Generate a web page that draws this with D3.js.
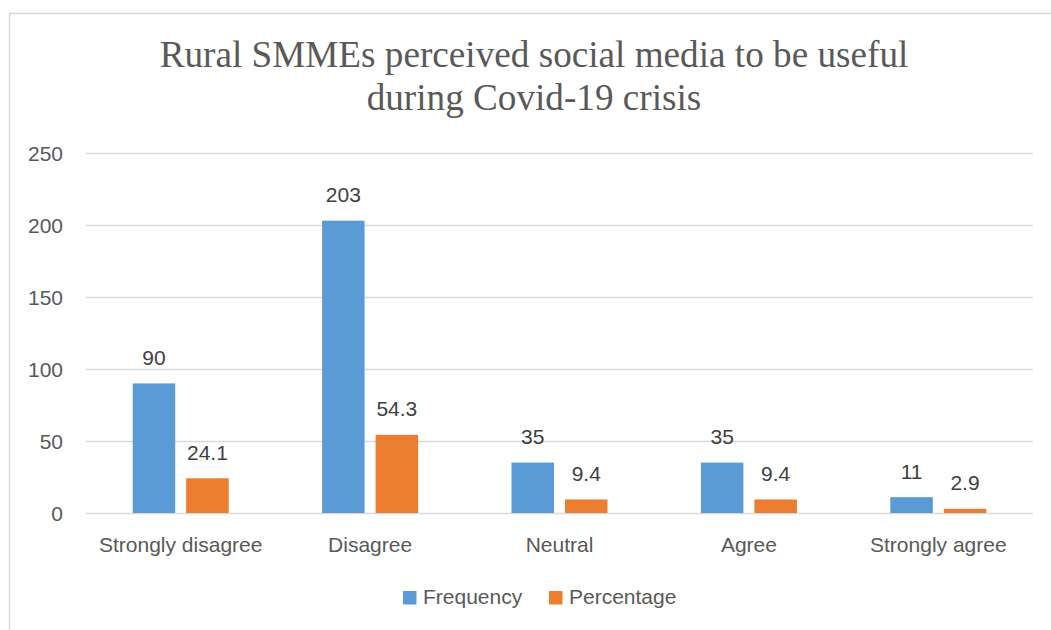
<!DOCTYPE html>
<html>
<head>
<meta charset="utf-8">
<script src="https://cdn.jsdelivr.net/npm/d3@7"></script>
<style>
  html, body { margin: 0; padding: 0; background: #fff; }
  svg { display: block; }
</style>
</head>
<body>
<svg id="chart" width="1051" height="630"></svg>
<script>
// Survey responses
const categories = ["Strongly disagree", "Disagree", "Neutral", "Agree", "Strongly agree"];
const frequency = [90, 203, 35, 35, 11];
const percentage = [24.1, 54.3, 9.4, 9.4, 2.9];
const seriesNames = ["Frequency", "Percentage"];
const yTicks = [0, 50, 100, 150, 200, 250];
const titleLines = ["Rural SMMEs perceived social media to be useful", "during Covid-19 crisis"];

const colors = ["#5B9BD5", "#ED7D31"];
const labelFont = "'Liberation Sans', Arial, sans-serif";

const svg = d3.select("#chart");
const W = 1051, H = 630;
const margin = { left: 86, right: W - 1033, top: 153, bottom: H - 513 };

svg.append("rect").attr("width", W).attr("height", H).attr("fill", "#fff");

// Chart area outline
svg.append("rect")
  .attr("x", 9.5).attr("y", 13.5)
  .attr("width", W + 20).attr("height", H + 20)
  .attr("fill", "none").attr("stroke", "#D9D9D9").attr("stroke-width", 1.5);

// Title
svg.append("text")
  .attr("font-family", "'Liberation Serif', 'Times New Roman', serif")
  .attr("font-size", 37.2)
  .attr("fill", "#595959")
  .attr("text-anchor", "middle")
  .selectAll("tspan").data(titleLines).join("tspan")
  .attr("x", 534)
  .attr("y", (d, i) => 67 + i * 43)
  .text(d => d);

const x0 = d3.scaleBand().domain(categories)
  .range([margin.left, W - margin.right]);
const y = d3.scaleLinear().domain([0, 250]).range([H - margin.bottom, margin.top]);

const barW = 42.5, innerGap = 11;
const x1 = d3.scaleOrdinal().domain(seriesNames)
  .range([-(barW + innerGap / 2), innerGap / 2]);

// Gridlines
const yAxis = d3.axisLeft(y).tickValues(yTicks)
  .tickSize(-(W - margin.left - margin.right)).tickPadding(23);
const gy = svg.append("g").attr("transform", `translate(${margin.left},0)`).call(yAxis);
gy.select(".domain").remove();
gy.selectAll(".tick line").attr("stroke", "#D9D9D9").attr("stroke-width", 1.5);
gy.selectAll(".tick text")
  .attr("font-family", labelFont).attr("font-size", 21).attr("fill", "#595959")
  .attr("dy", "0.36em");

// Category axis
const xAxis = d3.axisBottom(x0).tickSize(0).tickPadding(24);
const gx = svg.append("g").attr("transform", `translate(0,${y(0)})`).call(xAxis);
gx.select(".domain").remove();
gx.selectAll(".tick text")
  .attr("font-family", labelFont).attr("font-size", 21).attr("fill", "#595959");

// Bars
const rows = categories.map((c, i) => ({ cat: c, vals: [frequency[i], percentage[i]] }));
const groups = svg.append("g").selectAll("g").data(rows).join("g")
  .attr("transform", d => `translate(${x0(d.cat) + x0.bandwidth() / 2},0)`);

groups.selectAll("rect")
  .data(d => d.vals.map((v, k) => ({ k, v })))
  .join("rect")
  .attr("x", d => x1(seriesNames[d.k]))
  .attr("width", barW)
  .attr("y", d => y(d.v))
  .attr("height", d => y(0) - y(d.v))
  .attr("fill", d => colors[d.k]);

groups.selectAll("text.val")
  .data(d => d.vals.map((v, k) => ({ k, v })))
  .join("text")
  .attr("class", "val")
  .attr("x", d => x1(seriesNames[d.k]) + barW / 2)
  .attr("y", d => y(d.v) - 18.5)
  .attr("text-anchor", "middle")
  .attr("font-family", labelFont).attr("font-size", 21).attr("fill", "#404040")
  .text(d => d.v);

// Legend
const legend = svg.append("g");
const legendX = [403, 549];
seriesNames.forEach((s, i) => {
  legend.append("rect")
    .attr("x", legendX[i]).attr("y", 591)
    .attr("width", 13.5).attr("height", 13.5)
    .attr("fill", colors[i]);
  legend.append("text")
    .attr("x", legendX[i] + 20).attr("y", 604)
    .attr("font-family", labelFont).attr("font-size", 21).attr("fill", "#595959")
    .text(s);
});
</script>
</body>
</html>
